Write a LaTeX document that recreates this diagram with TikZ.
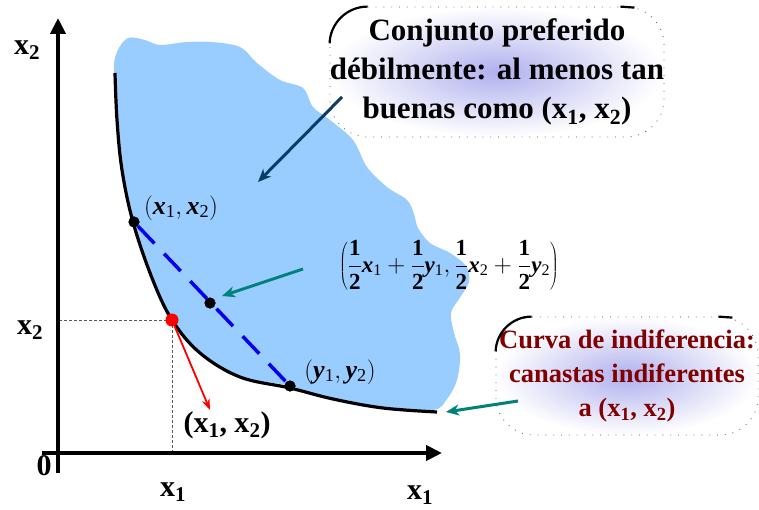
\documentclass[tikz,border=0pt]{standalone}
\usepackage{fontspec}
\setmainfont{Liberation Serif}
\usetikzlibrary{arrows.meta,shadings,calc}
\definecolor{blobblue}{HTML}{99CCFF}
\definecolor{navyarr}{HTML}{0B3C66}
\definecolor{tealarr}{HTML}{00827A}
\definecolor{maroonT}{HTML}{800000}
\definecolor{glow}{HTML}{B0B0EE}
\definecolor{dashblue}{HTML}{0000EE}
\newcommand{\ix}[2]{\textbf{\textit{#1}}\textsubscript{#2}}
\newcommand{\bx}[1]{\textbf{x\textsubscript{#1}}}
\newcommand{\myhalf}{{\displaystyle\frac{\textbf{1}}{\textbf{2}}}}
\tikzset{
  axis/.style={line width=4.5pt,-{Triangle[length=16pt,width=15pt]}},
  guide/.style={densely dashed,line width=0.6pt,gray!70!black},
  dot/.style={circle,fill=black,inner sep=0pt,minimum size=11pt},
  lbl/.style={font=\fontsize{30}{34}\selectfont\bfseries},
  mlbl/.style={font=\fontsize{26}{30}\selectfont},
  callout/.style={inner color=glow,outer color=white,rounded corners=38pt,draw=black!70,dash pattern=on 0.8pt off 7pt,line width=0.8pt,align=center,inner sep=0pt},
  calarr/.style={line width=3pt,-{Stealth[length=13pt,width=11pt,inset=4pt]}},
}
\begin{document}
\begin{tikzpicture}[x=1pt,y=-1pt]
\useasboundingbox (0,0) rectangle (759,510);
% blob
\fill[blobblue] plot[smooth cycle,tension=0.55] coordinates {
 (114,75) (117,52) (128,38) (145,40) (160,45) (187,42) (212,42) (240,47) (257,63) (280,80) (303,88) (313,107) (330,120) (353,140) (367,167) (387,187) (407,200) (414,214) (418,228) (430,243) (450,253) (466,266) (469,282) (459,299) (451,313) (454,333) (460,354) (457,380) (447,399) (433,410)
 (383,407) (333,399) (290,386) (240,376) (200,352) (172,319) (153,279) (133,219) (120,153)};
% guides
\coordinate (O) at (58,453);
\coordinate (p) at (172,320);
\draw[guide] (p) -- (p |- O);
\draw[guide] (p) -- (p -| O);
% indifference curve
\draw[line width=3.2pt] plot[smooth,tension=0.6] coordinates {(115,73) (117,120) (122,170) (133,222) (152,278) (172,320) (200,353) (240,377) (290,388) (333,399) (383,408) (437,412)};
% axes
\draw[axis] (58,473) -- (58,18);
\draw[axis] (42,453) -- (442,453);
% points
\node[dot] (a) at (134,222) {};
\node[dot] (m) at (210,303) {};
\node[dot] (b) at (290,386) {};
\draw[dashblue,line width=3.5pt,dash pattern=on 24pt off 14pt] (a) -- (b);
\node[dot] at (a) {};
\node[dot] at (m) {};
\node[dot] at (b) {};
\node[dot,fill=red,minimum size=13pt] (r) at (p) {};
% labels
\node[lbl] (lx2top) at (27,50) {\bx2};
\node[lbl] (lx2) at (30,330) {\bx2};
\node[lbl] (l0) at (44,466) {0};
\node[lbl] (lx1) at (173,492) {\bx1};
\node[lbl] (lx1r) at (420,495) {\bx1};
\node[mlbl] (la) at (181,208) {$\bigl($\ix{x}{1}$,$\,\ix{x}{2}$\bigr)$};
\node[mlbl] (lb) at (340,372) {$\bigl($\ix{y}{1}$,$\,\ix{y}{2}$\bigr)$};
\node[font=\fontsize{23}{26}\selectfont,inner sep=0pt] (lm) at (449,265) {$\left(\myhalf\mbox{\ix{x}{1}}+\myhalf\mbox{\ix{y}{1}},\myhalf\mbox{\ix{x}{2}}+\myhalf\mbox{\ix{y}{2}}\right)$};
\node[lbl] (lr) at (227,425) {(\bx1, \bx2)};
\draw[red,line width=1.8pt,-{Stealth[length=11pt,width=8pt]}] (r) -- (210,410);
% callouts
\node[callout,font=\fontsize{31}{39}\selectfont\bfseries,minimum width=322pt,minimum height=130pt] (c1) at (497,72) {Conjunto preferido\\ débilmente: al menos tan\\ buenas como (\bx1, \bx2)};
\draw[line width=2.2pt] ([xshift=38pt]c1.north west) arc[start angle=90,end angle=178,radius=38pt];
\draw[line width=2.2pt] ([xshift=-44pt]c1.north east) -- ([xshift=-30pt,yshift=-1pt]c1.north east);
\node[callout,text=maroonT,font=\fontsize{26.5}{34}\selectfont\bfseries,minimum width=262pt,minimum height=118pt] (c2) at (627,376) {Curva de indiferencia:\\ canastas indiferentes\\ a (\bx1, \bx2)};
\draw[line width=2.2pt] ([xshift=36pt]c2.north west) arc[start angle=90,end angle=178,radius=36pt];
\draw[line width=2.2pt] ([xshift=-40pt]c2.north east) -- ([xshift=-26pt,yshift=-1pt]c2.north east);
% callout arrows
\coordinate (t1) at (258,182);
\draw[calarr,navyarr] (342,97) -- (t1);
\coordinate (t2) at (222,296);
\draw[calarr,tealarr] (303,269) -- (t2);
\coordinate (t3) at (446,412);
\draw[calarr,tealarr] (518,401) -- (t3);
\end{tikzpicture}
\end{document}
